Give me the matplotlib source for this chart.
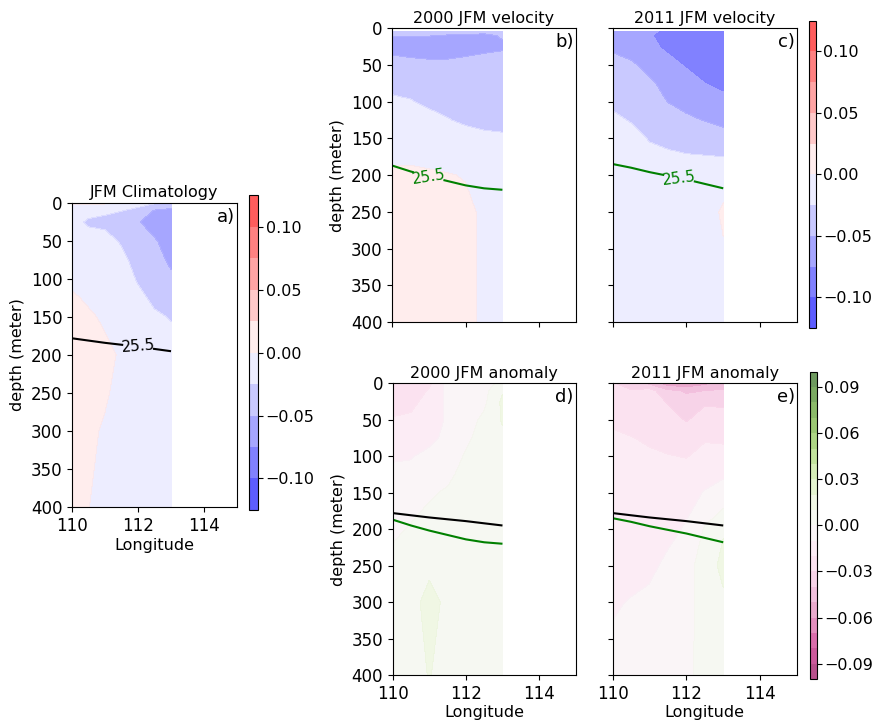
import matplotlib
matplotlib.use("Agg")
import matplotlib.pyplot as plt
import numpy as np

# section grid: longitude along the track, depth levels (m)
lon = [110.0, 110.5, 111.0, 111.5, 112.0, 112.5, 113.0]
depth = [0, 10, 25, 50, 75, 100, 125, 150, 200, 250, 300, 400]
vel_depth = [5, 10, 25, 50, 75, 100, 125, 150, 200, 250, 300, 400]
rho_depth = [150, 250]

# velocity (m/s), rows = depth, cols = lon
vel_clim = [
    [0.003, 0.003, 0.003, -0.010, -0.018, -0.022, -0.022],
    [-0.012, -0.018, -0.020, -0.024, -0.030, -0.052, -0.060],
    [-0.018, -0.028, -0.032, -0.040, -0.048, -0.062, -0.068],
    [-0.016, -0.016, -0.015, -0.028, -0.042, -0.047, -0.063],
    [-0.013, -0.013, -0.014, -0.018, -0.035, -0.040, -0.055],
    [-0.006, -0.009, -0.011, -0.014, -0.027, -0.034, -0.045],
    [0.004, -0.004, -0.008, -0.012, -0.020, -0.029, -0.037],
    [0.008, 0.004, -0.004, -0.010, -0.016, -0.022, -0.026],
    [0.010, 0.008, 0.006, -0.003, -0.012, -0.015, -0.018],
    [0.009, 0.007, 0.003, -0.008, -0.011, -0.012, -0.014],
    [0.008, 0.005, -0.003, -0.009, -0.011, -0.012, -0.013],
    [0.006, 0.0005, -0.008, -0.010, -0.012, -0.013, -0.013],
]
vel_2000 = [
    [-0.040, -0.042, -0.043, -0.043, -0.044, -0.045, -0.045],
    [-0.048, -0.049, -0.049, -0.051, -0.052, -0.054, -0.048],
    [-0.062, -0.065, -0.066, -0.066, -0.062, -0.056, -0.053],
    [-0.036, -0.040, -0.043, -0.043, -0.040, -0.040, -0.040],
    [-0.030, -0.031, -0.034, -0.036, -0.036, -0.037, -0.037],
    [-0.022, -0.024, -0.028, -0.031, -0.032, -0.034, -0.034],
    [-0.015, -0.016, -0.020, -0.024, -0.028, -0.030, -0.031],
    [-0.008, -0.008, -0.010, -0.014, -0.018, -0.021, -0.022],
    [0.003, 0.003, 0.002, 0.001, -0.001, -0.010, -0.012],
    [0.007, 0.007, 0.006, 0.005, 0.004, -0.003, -0.006],
    [0.008, 0.008, 0.007, 0.006, 0.005, -0.0033, -0.005],
    [0.006, 0.006, 0.005, 0.004, 0.004, -0.003, -0.004],
]
vel_2011 = [
    [-0.058, -0.062, -0.068, -0.080, -0.088, -0.090, -0.090],
    [-0.060, -0.066, -0.072, -0.083, -0.092, -0.094, -0.094],
    [-0.054, -0.062, -0.070, -0.078, -0.090, -0.093, -0.094],
    [-0.042, -0.046, -0.058, -0.068, -0.076, -0.084, -0.088],
    [-0.036, -0.040, -0.046, -0.058, -0.066, -0.074, -0.080],
    [-0.028, -0.033, -0.040, -0.0505, -0.057, -0.063, -0.068],
    [-0.022, -0.026, -0.034, -0.040, -0.046, -0.051, -0.054],
    [-0.016, -0.020, -0.026, -0.028, -0.030, -0.036, -0.044],
    [-0.012, -0.013, -0.016, -0.018, -0.018, -0.012, -0.006],
    [-0.010, -0.011, -0.011, -0.012, -0.010, -0.006, 0.002],
    [-0.009, -0.010, -0.010, -0.010, -0.009, -0.007, -0.001],
    [-0.008, -0.009, -0.009, -0.009, -0.009, -0.008, -0.006],
]
anom_2000 = [
    [-0.028, -0.026, -0.022, -0.007, -0.006, -0.004, 0.0027],
    [-0.027, -0.026, -0.019, -0.0078, -0.006, -0.003, 0.009],
    [-0.025, -0.023, -0.016, -0.0085, -0.005, -0.002, 0.012],
    [-0.019, -0.018, -0.014, -0.009, -0.004, 0.002, 0.011],
    [-0.015, -0.014, -0.012, -0.008, -0.002, 0.004, 0.008],
    [-0.011, -0.0105, -0.008, -0.005, 0.001, 0.005, 0.006],
    [-0.008, -0.008, -0.005, -0.002, 0.003, 0.005, 0.005],
    [-0.006, -0.005, -0.001, 0.001, 0.004, 0.005, 0.005],
    [-0.002, 0.001, 0.003, 0.004, 0.005, 0.005, 0.005],
    [0.003, 0.005, 0.008, 0.006, 0.005, 0.005, 0.005],
    [0.005, 0.007, 0.013, 0.008, 0.006, 0.005, 0.005],
    [0.005, 0.006, 0.0105, 0.006, 0.005, 0.005, 0.005],
]
anom_2011 = [
    [-0.029, -0.036, -0.042, -0.055, -0.058, -0.052, -0.045],
    [-0.028, -0.029, -0.026, -0.038, -0.041, -0.040, -0.039],
    [-0.027, -0.028, -0.027, -0.0305, -0.037, -0.031, -0.032],
    [-0.022, -0.025, -0.025, -0.027, -0.0305, -0.027, -0.026],
    [-0.018, -0.0195, -0.022, -0.024, -0.025, -0.021, -0.021],
    [-0.017, -0.017, -0.018, -0.0195, -0.0205, -0.017, -0.018],
    [-0.016, -0.016, -0.017, -0.018, -0.016, -0.013, -0.011],
    [-0.015, -0.015, -0.016, -0.016, -0.013, -0.0095, -0.007],
    [-0.014, -0.014, -0.014, -0.0125, -0.009, 0.001, 0.009],
    [-0.013, -0.013, -0.012, -0.008, -0.003, 0.004, 0.013],
    [-0.011, -0.0095, -0.008, -0.004, -0.003, 0.004, 0.008],
    [-0.007, -0.006, -0.005, -0.003, -0.002, 0.003, 0.004],
]

# potential density (sigma) at 150 m and 250 m
rho_clim = [
    [25.0, 25.0, 25.0, 25.0, 25.0, 25.0, 25.0],
    [26.786, 26.613, 26.471, 26.370, 26.282, 26.190, 26.111],
]
rho_2000 = [
    [25.0, 25.0, 25.0, 25.0, 25.0, 25.0, 25.0],
    [26.351, 26.111, 25.962, 25.862, 25.781, 25.735, 25.714],
]
rho_2011 = [
    [25.0, 25.0, 25.0, 25.0, 25.0, 25.0, 25.0],
    [26.429, 26.250, 26.087, 25.980, 25.893, 25.806, 25.735],
]

vel_levels = np.linspace(-0.125, 0.125, 11)
vel_ticks = [-0.10, -0.05, 0.00, 0.05, 0.10]
anom_levels = np.linspace(-0.1, 0.1, 21)
anom_ticks = [-0.09, -0.06, -0.03, 0.00, 0.03, 0.06, 0.09]

plt.rcParams['xtick.labelsize'] = 12
plt.rcParams['ytick.labelsize'] = 12


def setup(ax, title, tag, ylab=True, xlab=True):
    ax.set_xlim(110, 115)
    ax.set_ylim(400, 0)
    ax.set_xticks([110, 112, 114])
    ax.set_yticks(range(0, 401, 50))
    ax.set_title(title, fontsize=11.5, pad=4)
    ax.text(0.99, 0.985, tag, transform=ax.transAxes, ha='right', va='top',
            fontsize=13)
    if ylab:
        ax.set_ylabel('depth (meter)', fontsize=11.5)
    else:
        ax.set_yticklabels([])
    if xlab:
        ax.set_xlabel('Longitude', fontsize=11.5, labelpad=2)
    else:
        ax.set_xticklabels([])


def isopycnal(ax, rho, color, label_at=None):
    cs = ax.contour(lon, rho_depth, rho, levels=[25.5], colors=color,
                    linewidths=1.5)
    if label_at is not None:
        ax.clabel(cs, fmt='%.1f', manual=[label_at], inline=True,
                  inline_spacing=8, fontsize=11)


def colorbar(cf, cax, ticks):
    cb = fig.colorbar(cf, cax=cax, ticks=ticks)
    cb.ax.tick_params(labelsize=11.5, pad=2)
    return cb


fig = plt.figure(figsize=(8.75, 7.24), dpi=100)

ax_a = fig.add_axes([0.0823, 0.2997, 0.1886, 0.4199])
ax_b = fig.add_axes([0.448, 0.5552, 0.2103, 0.406])
ax_c = fig.add_axes([0.7002, 0.5552, 0.2106, 0.406])
ax_d = fig.add_axes([0.4488, 0.0677, 0.2091, 0.4029])
ax_e = fig.add_axes([0.7002, 0.0677, 0.2106, 0.4029])
cax_a = fig.add_axes([0.2846, 0.2956, 0.0103, 0.435])
cax_c = fig.add_axes([0.9246, 0.547, 0.0075, 0.4244])
cax_e = fig.add_axes([0.9257, 0.0622, 0.0075, 0.4244])

cf_a = ax_a.contourf(lon, depth, vel_clim, levels=vel_levels, cmap='bwr',
                     alpha=0.7)
isopycnal(ax_a, rho_clim, 'black', (112.0, 191))
setup(ax_a, 'JFM Climatology', 'a)')

ax_b.contourf(lon, vel_depth, vel_2000, levels=vel_levels, cmap='bwr',
              alpha=0.7)
isopycnal(ax_b, rho_2000, 'green', (111.0, 200))
setup(ax_b, '2000 JFM velocity', 'b)', xlab=False)

cf_c = ax_c.contourf(lon, vel_depth, vel_2011, levels=vel_levels, cmap='bwr',
                     alpha=0.7)
isopycnal(ax_c, rho_2011, 'green', (111.8, 204))
setup(ax_c, '2011 JFM velocity', 'c)', ylab=False, xlab=False)

ax_d.contourf(lon, depth, anom_2000, levels=anom_levels, cmap='PiYG',
              alpha=0.7)
isopycnal(ax_d, rho_clim, 'black')
isopycnal(ax_d, rho_2000, 'green')
setup(ax_d, '2000 JFM anomaly', 'd)')

cf_e = ax_e.contourf(lon, depth, anom_2011, levels=anom_levels, cmap='PiYG',
                     alpha=0.7)
isopycnal(ax_e, rho_clim, 'black')
isopycnal(ax_e, rho_2011, 'green')
setup(ax_e, '2011 JFM anomaly', 'e)', ylab=False)

colorbar(cf_a, cax_a, vel_ticks)
colorbar(cf_c, cax_c, vel_ticks)
colorbar(cf_e, cax_e, anom_ticks)

fig.savefig('out.png', dpi=100)
